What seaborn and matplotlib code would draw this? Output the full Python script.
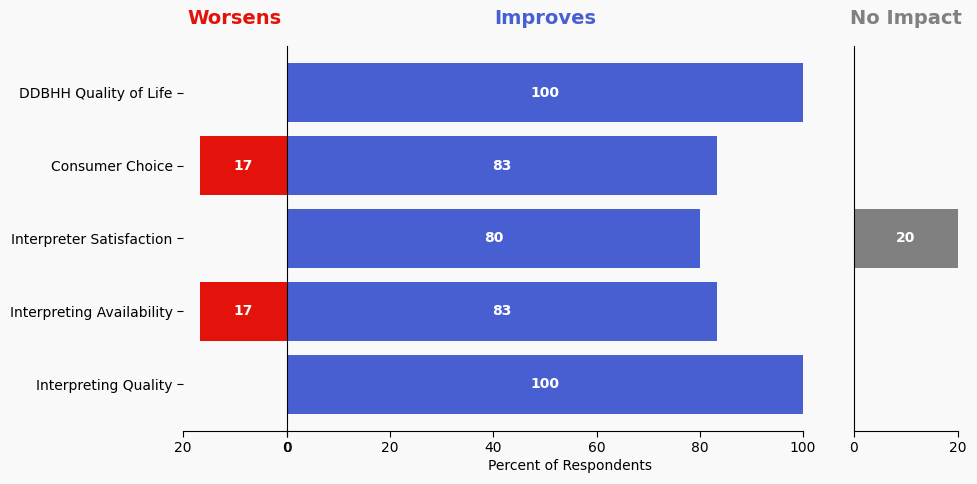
import matplotlib
matplotlib.use("Agg")
import matplotlib.pyplot as plt
import seaborn as sns
import pandas as pd

categories = ["DDBHH Quality of Life", "Consumer Choice", "Interpreter Satisfaction",
              "Interpreting Availability", "Interpreting Quality"]
worsens = [0, 16.7, 0, 16.7, 0]
improves = [100, 83.3, 80, 83.3, 100]
no_impact = [0, 0, 20, 0, 0]

BLUE = "#485FD2"
RED = "#E3120B"
GRAY = "#808080"
BG = "#F9F9F9"

sns.set_style("white")
plt.rcParams["font.family"] = ["DejaVu Sans"]
plt.rcParams["text.color"] = "black"
plt.rcParams["axes.labelcolor"] = "black"
plt.rcParams["xtick.color"] = "black"
plt.rcParams["ytick.color"] = "black"

fig = plt.figure(figsize=(9.78, 4.84), dpi=100, facecolor=BG)
bottom, height = 0.1095, 0.7955
ax_l = fig.add_axes([0.1871, bottom, 0.1063, height])
ax_m = fig.add_axes([0.2935, bottom, 0.5276, height])
ax_r = fig.add_axes([0.8732, bottom, 0.1063, height])

df = pd.DataFrame({"cat": categories, "w": worsens, "i": improves, "n": no_impact})

panels = [(ax_l, "w", RED, "Worsens"), (ax_m, "i", BLUE, "Improves"), (ax_r, "n", GRAY, "No Impact")]
for ax, col, color, title in panels:
    ax.set_facecolor(BG)
    sns.barplot(data=df, y="cat", x=col, ax=ax, color=color, width=0.8,
                saturation=1, orient="h", linewidth=0, edgecolor=color)
    ax.set_ylim(4.64, -0.64)
    labels = [f"{v:.0f}" if v > 0 else "" for v in df[col]]
    ax.bar_label(ax.containers[0], labels=labels, label_type="center",
                 color="white", fontweight="bold", fontsize=10)
    ax.set_title(title, color=color, fontweight="bold", fontsize=14, pad=16)
    ax.set_xlabel("")
    ax.set_ylabel("")
    for s in ["top", "right"]:
        ax.spines[s].set_visible(False)
    for s in ax.spines.values():
        s.set_color("black")
        s.set_linewidth(0.8)
    ax.tick_params(axis="x", bottom=True, length=4, labelsize=10, color="black",
                   labelcolor="black")

ax_l.set_xlim(20, 0)
ax_l.set_xticks([20, 0])
ax_l.spines["left"].set_visible(False)
ax_l.tick_params(axis="y", left=True, length=4, labelsize=10, labelcolor="black")

ax_m.set_xlim(0, 100)
ax_m.set_xticks([0, 20, 40, 60, 80, 100])
ax_m.set_yticks([])

ax_r.set_xlim(0, 20)
ax_r.set_xticks([0, 20])
ax_r.set_yticks([])

fig.text((0.1871 + 0.8732 + 0.1063) / 2, 0.022, "Percent of Respondents",
         ha="center", va="bottom", fontsize=10, color="black")

fig.savefig("out.png", dpi=100, facecolor=BG)
